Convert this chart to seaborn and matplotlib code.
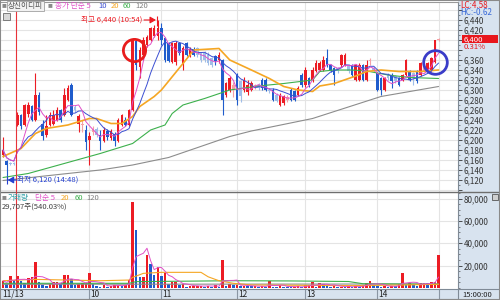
import numpy as np
import pandas as pd
import matplotlib
matplotlib.use("Agg")
import matplotlib.pyplot as plt
import matplotlib.transforms as mtransforms
from matplotlib.patches import Rectangle
from matplotlib.ticker import MultipleLocator
import seaborn as sns

sns.set_style("white")
plt.rcParams['font.family'] = ['Noto Sans CJK KR', 'DejaVu Sans']
plt.rcParams['axes.unicode_minus'] = False

# ---------------- data (3-minute bars) ----------------
OPEN = [6170, 6157, 6152, 6153, 6230, 6250, 6230, 6252, 6268, 6240,
        6290, 6232, 6210, 6230, 6232, 6240, 6260, 6250, 6280, 6310,
        6265, 6232, 6230, 6220, 6200, 6215, 6222, 6210, 6197, 6218,
        6203, 6212, 6197, 6230, 6240, 6230, 6260, 6398, 6345, 6370,
        6390, 6400, 6407, 6407, 6423, 6403, 6393, 6355, 6355, 6393,
        6350, 6393, 6370, 6381, 6383, 6373, 6373, 6370, 6363, 6367,
        6360, 6360, 6290, 6300, 6300, 6330, 6317, 6300, 6295, 6300,
        6307, 6310, 6320, 6320, 6300, 6300, 6290, 6270, 6273, 6280,
        6300, 6297, 6290, 6330, 6310, 6323, 6320, 6337, 6340, 6340,
        6363, 6350, 6343, 6343, 6350, 6350, 6350, 6350, 6320, 6320,
        6350, 6320, 6357, 6343, 6333, 6323, 6300, 6330, 6330, 6327,
        6323, 6320, 6330, 6337, 6333, 6337, 6330, 6337, 6337, 6340,
        6355, 6400]
HIGH = [6205, 6160, 6155, 6155, 6255, 6252, 6272, 6275, 6270, 6333,
        6295, 6240, 6250, 6255, 6260, 6265, 6262, 6303, 6310, 6313,
        6270, 6252, 6240, 6230, 6215, 6228, 6225, 6220, 6225, 6222,
        6222, 6215, 6243, 6252, 6245, 6262, 6400, 6400, 6385, 6405,
        6410, 6425, 6430, 6440, 6433, 6405, 6395, 6395, 6397, 6395,
        6387, 6395, 6385, 6385, 6385, 6375, 6378, 6375, 6365, 6370,
        6375, 6362, 6315, 6327, 6315, 6333, 6320, 6325, 6320, 6318,
        6312, 6313, 6323, 6323, 6303, 6303, 6293, 6293, 6290, 6290,
        6303, 6300, 6307, 6333, 6345, 6325, 6345, 6360, 6357, 6367,
        6381, 6352, 6345, 6345, 6372, 6373, 6352, 6352, 6352, 6353,
        6352, 6360, 6363, 6345, 6335, 6325, 6325, 6333, 6333, 6330,
        6325, 6332, 6362, 6340, 6335, 6340, 6355, 6352, 6355, 6365,
        6400, 6404]
LOW = [6165, 6120, 6150, 6150, 6228, 6222, 6228, 6245, 6238, 6238,
       6250, 6200, 6205, 6228, 6230, 6238, 6235, 6248, 6278, 6248,
       6255, 6215, 6215, 6180, 6150, 6210, 6205, 6180, 6195, 6200,
       6200, 6187, 6195, 6228, 6228, 6228, 6258, 6340, 6323, 6360,
       6385, 6398, 6405, 6400, 6390, 6355, 6355, 6353, 6350, 6370,
       6340, 6368, 6365, 6368, 6365, 6355, 6355, 6350, 6345, 6350,
       6353, 6250, 6285, 6295, 6285, 6270, 6275, 6295, 6290, 6298,
       6302, 6300, 6300, 6297, 6293, 6278, 6275, 6268, 6270, 6275,
       6278, 6277, 6287, 6305, 6305, 6305, 6315, 6335, 6337, 6337,
       6345, 6335, 6310, 6333, 6345, 6348, 6333, 6325, 6318, 6318,
       6318, 6318, 6350, 6335, 6297, 6290, 6297, 6320, 6303, 6313,
       6307, 6318, 6328, 6317, 6310, 6313, 6327, 6335, 6335, 6338,
       6353, 6398]
CLOSE = [6180, 6149, 6151, 6152, 6250, 6228, 6270, 6270, 6240, 6290,
         6255, 6207, 6228, 6250, 6250, 6260, 6240, 6290, 6303, 6250,
         6260, 6248, 6232, 6195, 6207, 6222, 6210, 6197, 6220, 6205,
         6218, 6197, 6240, 6250, 6230, 6260, 6400, 6350, 6380, 6400,
         6405, 6423, 6423, 6423, 6400, 6360, 6357, 6393, 6393, 6373,
         6383, 6370, 6381, 6370, 6370, 6360, 6360, 6353, 6350, 6357,
         6370, 6280, 6313, 6323, 6310, 6280, 6287, 6320, 6310, 6313,
         6308, 6303, 6303, 6300, 6297, 6280, 6277, 6290, 6287, 6285,
         6280, 6280, 6303, 6310, 6340, 6310, 6340, 6353, 6353, 6360,
         6350, 6340, 6330, 6337, 6370, 6370, 6337, 6330, 6350, 6350,
         6320, 6350, 6360, 6337, 6300, 6300, 6323, 6323, 6317, 6317,
         6310, 6330, 6360, 6320, 6323, 6317, 6353, 6350, 6353, 6363,
         6400, 6400]
VOLUME = [6500, 3600, 10700, 7000, 10700, 6500, 4200, 8600, 9500, 23500,
          5700, 2700, 1800, 3300, 5700, 5700, 4200, 11600, 11600, 7700,
          2700, 3300, 4200, 4800, 13700, 3300, 1800, 1200, 2700, 1200,
          2100, 2700, 2700, 1800, 2700, 7200, 77000, 51800, 9500, 10000,
          29500, 21500, 11600, 18500, 10500, 13100, 3300, 5000, 5700, 2700,
          3300, 1200, 1500, 1800, 2100, 2100, 1200, 2100, 1200, 2400,
          1200, 25000, 1800, 3300, 2700, 2700, 1800, 2100, 1800, 1500,
          1800, 1000, 1500, 1200, 6500, 1200, 900, 2700, 1200, 1000,
          600, 600, 2100, 600, 2700, 2700, 5000, 1200, 4200, 3800,
          2700, 1200, 1800, 1200, 1200, 600, 1800, 600, 1800, 1200,
          2700, 4800, 6500, 2700, 2100, 1200, 1800, 1200, 1800, 1500,
          3300, 13000, 2700, 4200, 2700, 2100, 4800, 4800, 4200, 5000,
          5200, 29707]
PALE = [2, 3, 20, 22, 25, 26, 54, 55, 56, 57, 58, 64, 66, 70, 71, 74, 76,
        79, 93, 96, 102, 103, 107, 109, 114, 117, 121]

# moving averages (bar index, value)
MA20_IDX = [0, 5, 9, 12, 18, 24, 26, 30, 33, 36, 38, 42, 44, 50, 53, 60, 63,
            69, 74, 78, 82, 86, 88, 92, 98, 101, 105, 110, 116, 121]
MA20_VAL = [6167, 6183, 6213, 6223, 6230, 6243, 6243, 6233, 6233, 6247, 6267,
            6287, 6300, 6353, 6380, 6383, 6360, 6340, 6323, 6307, 6300, 6297,
            6308, 6313, 6328, 6337, 6340, 6337, 6337, 6340]
MA60_IDX = [0, 7, 27, 36, 41, 45, 47, 50, 56, 63, 71, 78, 86, 88, 92, 97, 101,
            107, 113, 121]
MA60_VAL = [6125, 6133, 6173, 6193, 6220, 6230, 6253, 6270, 6283, 6300, 6308,
            6313, 6320, 6337, 6340, 6340, 6338, 6330, 6325, 6323]
MA120_IDX = [0, 27, 36, 46, 63, 69, 86, 105, 121]
MA120_VAL = [6119, 6140, 6150, 6165, 6207, 6218, 6243, 6287, 6307]

VMA20_IDX = [0, 9, 18, 27, 35, 36, 39, 44, 55, 57, 60, 64, 69, 97, 112, 121]
VMA20_VAL = [6500, 7700, 7100, 6500, 7100, 9500, 13100, 14000, 14000, 10000,
             6500, 4200, 2700, 2100, 2700, 3300]
VMA60_IDX = [0, 35, 37, 64, 80, 96, 100, 121]
VMA60_VAL = [4200, 4200, 5700, 6500, 6300, 5800, 3800, 3300]
VMA120_IDX = [0, 121]
VMA120_VAL = [3300, 3600]

DATE_LABELS = ["11/13", "10", "11", "12", "13", "14"]
HOUR_IDX = [24, 44, 65, 84, 104]
DAY_START = 4
PRICE_TICKS = list(range(6120, 6441, 20))
VOL_TICKS = [20000, 40000, 60000, 80000]

# ---------------- styles ----------------
RED, BLUE = '#ec1c24', '#1f5ccc'
PRED, PBLUE = '#f5a0a4', '#9fbde8'
C5, C10, C20, C60, C120 = '#e050c8', '#3c4fd2', '#f5a623', '#3cb04c', '#8c8c8c'
PANEL = '#d8e3ef'
GRID = '#e4e4e4'

W, H = 500, 300
fig = plt.figure(figsize=(5, 3), dpi=100)
fig.patch.set_facecolor('white')


def box(x0, y0, x1, y1):
    return [x0 / W, 1 - y1 / H, (x1 - x0) / W, (y1 - y0) / H]


def ftext(x, y, s, **kw):
    kw.setdefault('va', 'center')
    kw.setdefault('ha', 'left')
    return fig.text(x / W, 1 - y / H, s, **kw)


# right-hand scale panel background (behind everything)
fig.patches.append(Rectangle((458 / W, 0), 42 / W, 1, transform=fig.transFigure,
                             fc=PANEL, ec='none', zorder=-5))

idx = np.arange(len(CLOSE))
O, Hh, L, C = map(np.array, (OPEN, HIGH, LOW, CLOSE))
V = np.array(VOLUME)
XL = (-0.56, 126.4)

ax_p = fig.add_axes(box(1, 2, 458, 192))
ax_v = fig.add_axes(box(1, 192, 458, 289))
ax_d = fig.add_axes(box(1, 289, 458, 299))

# ---------------- price panel ----------------
up = C >= O
cols = []
for i in idx:
    pale = i in PALE
    if up[i]:
        cols.append(PRED if pale else RED)
    else:
        cols.append(PBLUE if pale else BLUE)

ax_p.set_xlim(*XL)
ax_p.set_ylim(6096, 6476)
ax_p.vlines(idx, L, Hh, colors=cols, lw=0.8, zorder=3)
body_lo = np.minimum(O, C)
body_h = np.maximum(np.abs(C - O), 2)
ax_p.bar(idx, body_h, bottom=body_lo, width=0.72, color=cols, lw=0, zorder=3)

ma5 = pd.Series(CLOSE).rolling(5, min_periods=1).mean()
ma10 = pd.Series(CLOSE).rolling(10, min_periods=1).mean()
sns.lineplot(x=MA120_IDX, y=MA120_VAL, ax=ax_p, color=C120, lw=0.8, zorder=4, legend=False)
sns.lineplot(x=MA60_IDX, y=MA60_VAL, ax=ax_p, color=C60, lw=0.8, zorder=4, legend=False)
sns.lineplot(x=MA20_IDX, y=MA20_VAL, ax=ax_p, color=C20, lw=1.2, zorder=4, legend=False)
sns.lineplot(x=idx, y=ma10.values, ax=ax_p, color=C10, lw=0.7, zorder=4, legend=False)
sns.lineplot(x=idx, y=ma5.values, ax=ax_p, color=C5, lw=0.7, zorder=4, legend=False)

ax_p.yaxis.tick_right()
ax_p.set_yticks(list(range(6100, 6461, 20)))
HIDDEN = (6380, 6400)
ax_p.set_yticklabels(['' if (t not in PRICE_TICKS or t in HIDDEN) else f"{t:,}"
                      for t in range(6100, 6461, 20)])
ax_p.yaxis.set_minor_locator(MultipleLocator(10))
ax_p.tick_params(axis='y', which='major', direction='out', length=3, width=0.6,
                 pad=1, labelsize=5.8, colors='#333333')
ax_p.tick_params(axis='y', which='minor', direction='out', length=1.5, width=0.5,
                 colors='#555555')
ax_p.set_xticks(HOUR_IDX + [len(CLOSE) - 1])
ax_p.tick_params(axis='x', length=0, labelbottom=False)
ax_p.grid(True, which='major', color=GRID, lw=0.8, zorder=0)
ax_p.set_axisbelow(True)
for s in ('left', 'bottom'):
    ax_p.spines[s].set_visible(False)
ax_p.spines['top'].set_color('#9a9a9a')
ax_p.spines['right'].set_color('#7f8a96')
ax_p.spines['right'].set_linewidth(0.8)
ax_p.set_xlabel(''); ax_p.set_ylabel('')

# day separator
for a in (ax_p, ax_v):
    a.axvline(DAY_START - 0.4, color='#e8333a', lw=0.8, zorder=5)

# high / low annotations
hi = int(np.argmax(Hh)); hv = int(Hh[hi])
ax_p.annotate(f"최고 {hv:,} (10:54)", xy=(hi - 0.4, hv), xytext=(-14, 0),
              textcoords='offset pixels', ha='right', va='center',
              color=RED, fontsize=5.5, zorder=6)
ax_p.annotate("", xy=(hi - 0.5, hv), xytext=(-12, 0), textcoords='offset pixels',
              arrowprops=dict(arrowstyle='-|>,head_length=0.35,head_width=0.2',
                              color=RED, lw=0.8, shrinkA=0, shrinkB=0), zorder=6)
ax_p.vlines(hi - 0.3, hv - 12, hv + 8, colors=RED, lw=0.8, zorder=6)

lo = int(np.argmin(L)); lv = int(L[lo])
ax_p.annotate(f"최저 {lv:,} (14:48)", xy=(lo, lv), xytext=(10, 0),
              textcoords='offset pixels', ha='left', va='center',
              color='#2540d0', fontsize=5.5, zorder=6)
ax_p.annotate("", xy=(lo + 0.3, lv), xytext=(9, 0), textcoords='offset pixels',
              arrowprops=dict(arrowstyle='-|>,head_length=0.35,head_width=0.2',
                              color='#2540d0', lw=0.8, shrinkA=0, shrinkB=0), zorder=6)
ax_p.vlines(lo, lv - 8, lv + 8, colors='#2540d0', lw=0.8, zorder=6)

# circles drawn by the analyst
ax_p.plot([36.5], [6380], marker='o', ms=16, mfc='none', mec='#e81c1c', mew=2.0,
          zorder=7, clip_on=False)
ax_p.plot([120], [6355], marker='o', ms=17, mfc='none', mec='#3a3cc8', mew=2.0,
          zorder=7, clip_on=False)

# current price box
blend = mtransforms.blended_transform_factory(ax_p.transAxes, ax_p.transData)
ax_p.add_patch(Rectangle((1.0088, 6394), 0.0788, 16, transform=blend, fc='#e8161c',
                         ec='none', clip_on=False, zorder=8))
ax_p.text(1.013, 6401.5, f"{CLOSE[-1]:,}", transform=blend, color='white',
          fontsize=5.6, va='center', ha='left', zorder=9, clip_on=False)
ax_p.text(1.013, 6385, "0.31%", transform=blend, color='#e8161c',
          fontsize=5.6, va='center', ha='left', zorder=9, clip_on=False)

# ---------------- volume panel ----------------
vcols = [RED] + [RED if V[i] >= V[i - 1] else BLUE for i in range(1, len(V))]
ax_v.set_xlim(*XL)
ax_v.set_ylim(-900, 85860)
ax_v.bar(idx, V, width=0.72, color=vcols, lw=0, zorder=3)
vma5 = pd.Series(VOLUME).rolling(5, min_periods=1).mean()
sns.lineplot(x=VMA120_IDX, y=VMA120_VAL, ax=ax_v, color=C120, lw=0.8, zorder=4, legend=False)
sns.lineplot(x=VMA60_IDX, y=VMA60_VAL, ax=ax_v, color=C60, lw=0.8, zorder=4, legend=False)
sns.lineplot(x=VMA20_IDX, y=VMA20_VAL, ax=ax_v, color=C20, lw=0.8, zorder=4, legend=False)
sns.lineplot(x=idx, y=vma5.values, ax=ax_v, color=C5, lw=0.7, zorder=4, legend=False)

ax_v.yaxis.tick_right()
ax_v.set_yticks(VOL_TICKS)
ax_v.set_yticklabels([f"{t:,}" for t in VOL_TICKS])
ax_v.yaxis.set_minor_locator(MultipleLocator(5000))
ax_v.tick_params(axis='y', which='major', direction='out', length=3, width=0.6,
                 pad=1, labelsize=5.8, colors='#333333')
ax_v.tick_params(axis='y', which='minor', direction='out', length=1.5, width=0.5,
                 colors='#555555')
ax_v.set_xticks(HOUR_IDX + [len(CLOSE) - 1])
ax_v.tick_params(axis='x', length=0, labelbottom=False)
ax_v.grid(True, which='major', color=GRID, lw=0.8, zorder=0)
ax_v.set_axisbelow(True)
for s in ('left', 'bottom'):
    ax_v.spines[s].set_visible(False)
ax_v.spines['top'].set_color('#6e6e6e')
ax_v.spines['top'].set_linewidth(1.0)
ax_v.spines['right'].set_color('#7f8a96')
ax_v.spines['right'].set_linewidth(0.8)
ax_v.set_xlabel(''); ax_v.set_ylabel('')

# ---------------- date strip ----------------
ax_d.set_facecolor(PANEL)
ax_d.set_xlim(*XL)
ax_d.set_ylim(0, 1)
ax_d.set_xticks([]); ax_d.set_yticks([])
for s in ax_d.spines.values():
    s.set_color('#7f8a96'); s.set_linewidth(0.8)
ax_d.spines['left'].set_visible(False)
ax_d.vlines(HOUR_IDX + [len(CLOSE) - 1], 0, 1, colors='#8a96a4', lw=0.8)
ax_d.text(XL[0] + 0.3, 0.45, DATE_LABELS[0], fontsize=6, va='center', ha='left',
          color='#222222')
for lab, h in zip(DATE_LABELS[1:], HOUR_IDX):
    ax_d.text(h + 0.35, 0.45, lab, fontsize=6, va='center', ha='left', color='#222222')

# ---------------- header / labels ----------------
ftext(1.5, 6, "■", fontsize=3.5, color='#8a8a8a')
ftext(8, 6, "상신이디피", fontsize=5.5, color='#555555',
      bbox=dict(boxstyle='square,pad=0.15', fc='#f2f2f2', ec='#a0a0a0', lw=0.6))
ftext(48, 6, "■", fontsize=3.5, color='#8a8a8a')
ftext(55, 6, "종가 단순 5", fontsize=5.5, color=C5)
ftext(98, 6, "10", fontsize=5.5, color=C10)
ftext(111, 6, "20", fontsize=5.5, color=C20)
ftext(123, 6, "60", fontsize=5.5, color=C60)
ftext(135, 6, "120", fontsize=5.5, color='#808080')
fig.patches.append(Rectangle((3 / W, 1 - 20 / H), 7 / W, 7 / H, transform=fig.transFigure,
                             fc='#d8d8d8', ec='#6a6a6a', lw=0.6, zorder=10))

ftext(460, 5, "LC:4.58", fontsize=5.8, color='#e8161c')
ftext(460, 12.5, "HC:-0.62", fontsize=5.8, color='#3a6ad8')

ftext(1.5, 198, "■", fontsize=3.5, color='#8a8a8a')
ftext(8, 198, "거래량", fontsize=5.5, color='#30a0a8')
ftext(35, 198, "단순 5", fontsize=5.5, color=C5)
ftext(61, 198, "20", fontsize=5.5, color=C20)
ftext(75, 198, "60", fontsize=5.5, color=C60)
ftext(86, 198, "120", fontsize=5.5, color='#808080')
ftext(2, 206.5, f"{VOLUME[-1]:,}주(540.03%)", fontsize=5.5, color='#404040')
fig.patches.append(Rectangle((492 / W, 1 - 200 / H), 6 / W, 6 / H, transform=fig.transFigure,
                             fc='#cfcfcf', ec='#555555', lw=0.6, zorder=10))

ftext(462, 295, "15:00:00", fontsize=5.5, color='#222222')
fig.lines.append(plt.Line2D([458 / W, 1], [1 - 289 / H] * 2, transform=fig.transFigure,
                            color='#7f8a96', lw=0.8))
fig.lines.append(plt.Line2D([458 / W, 1], [1 - 192 / H] * 2, transform=fig.transFigure,
                            color='#6e6e6e', lw=1.0))
fig.patches.append(Rectangle((0, 0), 1, 1, transform=fig.transFigure, fill=False,
                             ec='#8a8a8a', lw=1.5, zorder=20))

fig.savefig("out.png", dpi=100)
